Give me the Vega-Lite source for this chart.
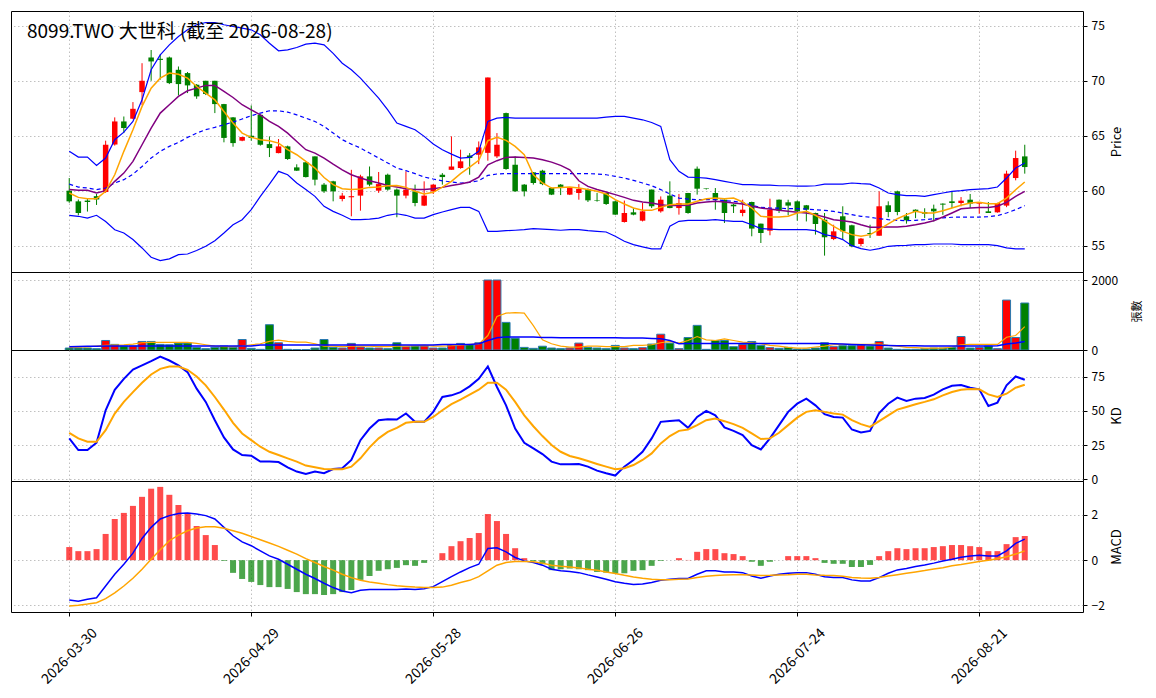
{
"$schema": "https://vega.github.io/schema/vega-lite/v6.json",
"padding": {"left": 10, "top": 10, "right": 0, "bottom": 0},
"autosize": {"type": "pad"},
"bounds": "flush",
"config": {
 "font": "Noto Sans CJK TC",
 "view": {"stroke": "black", "strokeWidth": 1},
 "axis": {"gridColor": "#b0b0b0", "gridDash": [1.5, 2.5], "gridWidth": 0.8, "labelFontSize": 12, "labelColor": "#000", "tickColor": "#000", "tickSize": 4, "domain": false, "titleFontSize": 13, "titleFontWeight": "normal", "titleColor": "#000"}
},
"spacing": 0,
"datasets": {
"k": [
{"i":0,"o":60.0,"h":61.15,"l":58.9,"c":59.03,"v":56,"ma5":59.79,"ma10":60.1,"mid":60.6,"up":63.58,"lo":57.76,"vm5":75,"vm20":94,"k":29.9,"d":34.0,"dif":-1.76,"dea":-2.03,"osc":0.58},
{"i":1,"o":59.03,"h":59.2,"l":57.76,"c":57.97,"v":56,"ma5":59.39,"ma10":60.03,"mid":60.33,"up":63.06,"lo":57.67,"vm5":80,"vm20":100,"k":21.4,"d":29.9,"dif":-1.81,"dea":-1.99,"osc":0.40},
{"i":2,"o":59.1,"h":59.3,"l":58.1,"c":58.97,"v":56,"ma5":59.27,"ma10":60.03,"mid":60.24,"up":63.06,"lo":57.5,"vm5":90,"vm20":105,"k":21.4,"d":27.4,"dif":-1.73,"dea":-1.94,"osc":0.40},
{"i":3,"o":59.5,"h":59.7,"l":58.7,"c":59.2,"v":38,"ma5":59.27,"ma10":59.79,"mid":60.1,"up":62.3,"lo":57.76,"vm5":110,"vm20":108,"k":26.7,"d":27.4,"dif":-1.66,"dea":-1.88,"osc":0.49},
{"i":4,"o":59.88,"h":64.55,"l":59.8,"c":64.18,"v":272,"ma5":59.94,"ma10":60.0,"mid":60.24,"up":62.97,"lo":57.2,"vm5":131,"vm20":113,"k":50.5,"d":35.9,"dif":-1.14,"dea":-1.70,"osc":1.16},
{"i":5,"o":64.2,"h":66.67,"l":64.1,"c":66.3,"v":160,"ma5":61.45,"ma10":60.85,"mid":60.7,"up":64.64,"lo":56.45,"vm5":140,"vm20":113,"k":65.5,"d":48.1,"dif":-0.62,"dea":-1.44,"osc":1.82},
{"i":6,"o":66.3,"h":66.75,"l":65.24,"c":65.7,"v":113,"ma5":63.58,"ma10":61.6,"mid":61.0,"up":65.33,"lo":56.15,"vm5":150,"vm20":113,"k":73.5,"d":56.6,"dif":-0.18,"dea":-1.14,"osc":2.09},
{"i":7,"o":66.55,"h":68.06,"l":66.5,"c":67.45,"v":113,"ma5":65.55,"ma10":62.67,"mid":61.5,"up":66.3,"lo":55.55,"vm5":170,"vm20":113,"k":80.3,"d":63.8,"dif":0.31,"dea":-0.80,"osc":2.40},
{"i":8,"o":68.97,"h":71.6,"l":67.8,"c":70.0,"v":244,"ma5":67.67,"ma10":64.18,"mid":62.2,"up":68.27,"lo":54.79,"vm5":207,"vm20":113,"k":83.3,"d":70.6,"dif":0.96,"dea":-0.40,"osc":2.80},
{"i":9,"o":72.12,"h":72.8,"l":70.0,"c":71.76,"v":244,"ma5":69.33,"ma10":65.7,"mid":62.97,"up":71.0,"lo":53.94,"vm5":216,"vm20":113,"k":86.4,"d":76.7,"dif":1.45,"dea":0.04,"osc":3.16},
{"i":10,"o":72.0,"h":72.4,"l":70.1,"c":71.9,"v":160,"ma5":70.24,"ma10":67.06,"mid":63.58,"up":72.36,"lo":53.64,"vm5":216,"vm20":113,"k":89.8,"d":80.8,"dif":1.82,"dea":0.46,"osc":3.24},
{"i":11,"o":72.12,"h":72.2,"l":69.7,"c":69.79,"v":150,"ma5":70.7,"ma10":67.82,"mid":64.03,"up":73.27,"lo":53.8,"vm5":216,"vm20":113,"k":86.9,"d":82.5,"dif":1.97,"dea":0.86,"osc":2.89},
{"i":12,"o":71.0,"h":71.3,"l":68.67,"c":69.7,"v":197,"ma5":70.6,"ma10":68.58,"mid":64.39,"up":74.03,"lo":54.18,"vm5":216,"vm20":113,"k":83.3,"d":82.5,"dif":2.06,"dea":1.11,"osc":2.44},
{"i":13,"o":70.7,"h":70.8,"l":68.88,"c":69.58,"v":197,"ma5":70.24,"ma10":69.09,"mid":64.85,"up":74.64,"lo":54.24,"vm5":216,"vm20":113,"k":78.4,"d":80.1,"dif":2.09,"dea":1.30,"osc":2.09},
{"i":14,"o":69.64,"h":69.7,"l":68.36,"c":68.58,"v":75,"ma5":69.48,"ma10":69.33,"mid":65.24,"up":75.1,"lo":54.55,"vm5":188,"vm20":113,"k":66.3,"d":75.2,"dif":2.04,"dea":1.42,"osc":1.51},
{"i":15,"o":70.0,"h":70.0,"l":68.7,"c":68.8,"v":38,"ma5":68.88,"ma10":69.58,"mid":65.55,"up":75.3,"lo":54.94,"vm5":150,"vm20":113,"k":56.6,"d":68.7,"dif":1.97,"dea":1.48,"osc":1.11},
{"i":16,"o":70.0,"h":70.0,"l":67.06,"c":67.88,"v":75,"ma5":68.27,"ma10":69.58,"mid":65.76,"up":75.3,"lo":55.45,"vm5":113,"vm20":113,"k":43.2,"d":60.2,"dif":1.82,"dea":1.48,"osc":0.67},
{"i":17,"o":67.88,"h":67.9,"l":64.4,"c":64.8,"v":113,"ma5":67.21,"ma10":69.03,"mid":66.0,"up":75.1,"lo":56.15,"vm5":94,"vm20":113,"k":30.6,"d":51.0,"dif":1.45,"dea":1.41,"osc":-0.03},
{"i":18,"o":66.67,"h":66.7,"l":64.0,"c":64.33,"v":75,"ma5":66.15,"ma10":68.48,"mid":66.24,"up":74.94,"lo":56.9,"vm5":94,"vm20":113,"k":21.8,"d":41.3,"dif":1.08,"dea":1.30,"osc":-0.56},
{"i":19,"o":64.55,"h":64.9,"l":64.5,"c":64.88,"v":300,"ma5":65.24,"ma10":67.82,"mid":66.52,"up":74.79,"lo":57.36,"vm5":113,"vm20":113,"k":17.7,"d":33.5,"dif":0.81,"dea":1.19,"osc":-0.83},
{"i":20,"o":65.0,"h":67.76,"l":64.55,"c":64.8,"v":47,"ma5":64.85,"ma10":67.36,"mid":66.82,"up":74.64,"lo":58.27,"vm5":150,"vm20":113,"k":17.2,"d":28.6,"dif":0.64,"dea":1.05,"osc":-0.96},
{"i":21,"o":66.9,"h":66.9,"l":64.1,"c":64.18,"v":19,"ma5":64.64,"ma10":66.9,"mid":67.06,"up":74.18,"lo":59.48,"vm5":178,"vm20":141,"k":12.9,"d":23.8,"dif":0.41,"dea":0.90,"osc":-1.10},
{"i":22,"o":64.24,"h":64.94,"l":63.06,"c":63.88,"v":723,"ma5":64.55,"ma10":66.3,"mid":67.27,"up":73.42,"lo":60.6,"vm5":244,"vm20":141,"k":12.9,"d":20.1,"dif":0.19,"dea":0.76,"osc":-1.19},
{"i":23,"o":63.42,"h":64.7,"l":63.4,"c":64.03,"v":207,"ma5":64.33,"ma10":65.85,"mid":67.27,"up":72.73,"lo":61.76,"vm5":282,"vm20":141,"k":12.6,"d":17.7,"dif":0.04,"dea":0.61,"osc":-1.19},
{"i":24,"o":64.03,"h":64.1,"l":62.8,"c":62.88,"v":19,"ma5":63.73,"ma10":65.24,"mid":67.15,"up":72.82,"lo":61.45,"vm5":244,"vm20":141,"k":8.7,"d":15.3,"dif":-0.18,"dea":0.44,"osc":-1.27},
{"i":25,"o":62.12,"h":62.4,"l":61.8,"c":61.82,"v":10,"ma5":63.27,"ma10":64.48,"mid":66.9,"up":73.03,"lo":60.7,"vm5":225,"vm20":141,"k":5.6,"d":12.9,"dif":-0.40,"dea":0.27,"osc":-1.41},
{"i":26,"o":62.58,"h":62.6,"l":61.2,"c":61.24,"v":10,"ma5":62.67,"ma10":63.73,"mid":66.6,"up":73.33,"lo":60.1,"vm5":225,"vm20":141,"k":3.9,"d":10.0,"dif":-0.62,"dea":0.07,"osc":-1.50},
{"i":27,"o":63.12,"h":63.12,"l":60.48,"c":61.0,"v":56,"ma5":62.06,"ma10":63.42,"mid":66.3,"up":73.42,"lo":59.48,"vm5":178,"vm20":141,"k":5.6,"d":8.7,"dif":-0.81,"dea":-0.10,"osc":-1.50},
{"i":28,"o":60.55,"h":60.7,"l":59.8,"c":59.94,"v":300,"ma5":61.2,"ma10":62.97,"mid":65.85,"up":73.27,"lo":58.58,"vm5":113,"vm20":141,"k":4.4,"d":7.5,"dif":-1.02,"dea":-0.28,"osc":-1.54},
{"i":29,"o":60.85,"h":60.9,"l":59.03,"c":59.94,"v":75,"ma5":60.55,"ma10":62.42,"mid":65.24,"up":72.5,"lo":58.12,"vm5":113,"vm20":141,"k":7.5,"d":7.3,"dif":-1.21,"dea":-0.44,"osc":-1.50},
{"i":30,"o":59.24,"h":59.8,"l":59.03,"c":59.55,"v":56,"ma5":60.18,"ma10":61.9,"mid":64.64,"up":71.6,"lo":57.76,"vm5":94,"vm20":141,"k":8.0,"d":7.3,"dif":-1.36,"dea":-0.62,"osc":-1.41},
{"i":31,"o":59.4,"h":61.9,"l":57.67,"c":59.5,"v":188,"ma5":60.1,"ma10":61.45,"mid":64.24,"up":71.0,"lo":57.36,"vm5":113,"vm20":141,"k":14.1,"d":9.2,"dif":-1.44,"dea":-0.77,"osc":-1.32},
{"i":32,"o":59.55,"h":61.45,"l":58.18,"c":61.3,"v":85,"ma5":60.15,"ma10":61.15,"mid":63.88,"up":70.24,"lo":57.36,"vm5":113,"vm20":141,"k":28.6,"d":15.3,"dif":-1.33,"dea":-0.89,"osc":-0.87},
{"i":33,"o":61.3,"h":62.2,"l":60.4,"c":60.55,"v":56,"ma5":60.3,"ma10":60.9,"mid":63.42,"up":69.33,"lo":57.42,"vm5":113,"vm20":141,"k":37.1,"d":23.3,"dif":-1.30,"dea":-0.96,"osc":-0.70},
{"i":34,"o":60.0,"h":61.7,"l":59.8,"c":60.6,"v":56,"ma5":60.33,"ma10":60.7,"mid":62.97,"up":68.42,"lo":57.5,"vm5":94,"vm20":141,"k":43.2,"d":29.9,"dif":-1.29,"dea":-1.02,"osc":-0.47},
{"i":35,"o":61.45,"h":61.55,"l":60.0,"c":60.1,"v":38,"ma5":60.45,"ma10":60.48,"mid":62.52,"up":67.36,"lo":57.76,"vm5":94,"vm20":141,"k":43.9,"d":34.7,"dif":-1.29,"dea":-1.08,"osc":-0.40},
{"i":36,"o":60.1,"h":60.2,"l":57.58,"c":59.55,"v":207,"ma5":60.48,"ma10":60.33,"mid":62.06,"up":66.15,"lo":57.9,"vm5":113,"vm20":141,"k":43.7,"d":37.6,"dif":-1.29,"dea":-1.13,"osc":-0.34},
{"i":37,"o":59.55,"h":61.76,"l":59.3,"c":60.1,"v":94,"ma5":60.3,"ma10":60.18,"mid":61.82,"up":65.85,"lo":57.76,"vm5":113,"vm20":141,"k":48.1,"d":41.3,"dif":-1.27,"dea":-1.16,"osc":-0.22},
{"i":38,"o":59.94,"h":60.55,"l":58.58,"c":58.88,"v":113,"ma5":59.94,"ma10":60.1,"mid":61.55,"up":65.55,"lo":57.5,"vm5":122,"vm20":141,"k":42.0,"d":42.0,"dif":-1.29,"dea":-1.19,"osc":-0.25},
{"i":39,"o":58.64,"h":60.85,"l":58.6,"c":59.55,"v":113,"ma5":59.7,"ma10":60.1,"mid":61.24,"up":64.94,"lo":57.5,"vm5":131,"vm20":141,"k":42.0,"d":42.0,"dif":-1.26,"dea":-1.21,"osc":-0.12},
{"i":40,"o":59.94,"h":60.6,"l":59.7,"c":60.55,"v":56,"ma5":59.85,"ma10":60.18,"mid":61.06,"up":64.24,"lo":57.82,"vm5":113,"vm20":141,"k":49.3,"d":45.6,"dif":-1.17,"dea":-1.21,"osc":0.0},
{"i":41,"o":61.45,"h":61.6,"l":60.55,"c":61.24,"v":56,"ma5":60.33,"ma10":60.3,"mid":60.9,"up":63.73,"lo":58.06,"vm5":113,"vm20":160,"k":60.2,"d":50.5,"dif":-0.95,"dea":-1.19,"osc":0.31},
{"i":42,"o":61.9,"h":64.94,"l":61.9,"c":62.2,"v":150,"ma5":60.85,"ma10":60.48,"mid":60.79,"up":63.33,"lo":58.27,"vm5":122,"vm20":160,"k":61.4,"d":54.9,"dif":-0.73,"dea":-1.11,"osc":0.62},
{"i":43,"o":62.06,"h":63.73,"l":62.0,"c":62.67,"v":188,"ma5":61.55,"ma10":60.6,"mid":60.7,"up":62.97,"lo":58.48,"vm5":141,"vm20":160,"k":63.8,"d":58.3,"dif":-0.52,"dea":-0.99,"osc":0.84},
{"i":44,"o":63.2,"h":63.42,"l":61.45,"c":62.97,"v":150,"ma5":62.15,"ma10":60.79,"mid":60.76,"up":63.03,"lo":58.48,"vm5":160,"vm20":160,"k":68.0,"d":61.9,"dif":-0.33,"dea":-0.89,"osc":0.98},
{"i":45,"o":63.27,"h":64.48,"l":62.42,"c":63.94,"v":207,"ma5":62.76,"ma10":61.24,"mid":60.9,"up":63.58,"lo":58.12,"vm5":169,"vm20":178,"k":73.5,"d":65.5,"dif":-0.18,"dea":-0.73,"osc":1.20},
{"i":46,"o":63.44,"h":70.3,"l":62.73,"c":70.3,"v":2000,"ma5":64.55,"ma10":62.36,"mid":61.39,"up":66.3,"lo":56.3,"vm5":413,"vm20":272,"k":82.5,"d":70.6,"dif":0.52,"dea":-0.47,"osc":2.04},
{"i":47,"o":63.12,"h":65.24,"l":62.97,"c":64.18,"v":2000,"ma5":64.85,"ma10":62.73,"mid":61.52,"up":66.6,"lo":56.3,"vm5":958,"vm20":347,"k":67.5,"d":70.6,"dif":0.55,"dea":-0.22,"osc":1.73},
{"i":48,"o":67.06,"h":67.1,"l":61.9,"c":61.97,"v":789,"ma5":64.58,"ma10":63.03,"mid":61.55,"up":66.67,"lo":56.36,"vm5":1052,"vm20":375,"k":54.1,"d":65.5,"dif":0.37,"dea":-0.10,"osc":1.16},
{"i":49,"o":62.36,"h":63.12,"l":59.9,"c":59.94,"v":338,"ma5":64.03,"ma10":63.06,"mid":61.55,"up":66.6,"lo":56.4,"vm5":1070,"vm20":375,"k":37.1,"d":56.6,"dif":0.12,"dea":-0.06,"osc":0.53},
{"i":50,"o":60.55,"h":60.6,"l":59.48,"c":59.94,"v":75,"ma5":63.27,"ma10":63.03,"mid":61.55,"up":66.6,"lo":56.45,"vm5":1052,"vm20":375,"k":26.7,"d":46.8,"dif":-0.03,"dea":-0.06,"osc":0.09},
{"i":51,"o":61.67,"h":61.7,"l":60.55,"c":60.7,"v":47,"ma5":61.45,"ma10":62.97,"mid":61.55,"up":66.6,"lo":56.55,"vm5":695,"vm20":375,"k":22.6,"d":38.8,"dif":-0.10,"dea":-0.07,"osc":-0.05},
{"i":52,"o":61.82,"h":61.9,"l":60.5,"c":60.6,"v":108,"ma5":60.7,"ma10":62.82,"mid":61.55,"up":66.6,"lo":56.5,"vm5":290,"vm20":360,"k":18.4,"d":31.6,"dif":-0.22,"dea":-0.13,"osc":-0.18},
{"i":53,"o":60.24,"h":60.3,"l":59.6,"c":59.64,"v":56,"ma5":60.24,"ma10":62.6,"mid":61.55,"up":66.6,"lo":56.45,"vm5":178,"vm20":355,"k":12.9,"d":25.0,"dif":-0.40,"dea":-0.22,"osc":-0.44},
{"i":54,"o":60.55,"h":60.6,"l":59.6,"c":60.24,"v":38,"ma5":60.3,"ma10":62.3,"mid":61.55,"up":66.6,"lo":56.4,"vm5":113,"vm20":350,"k":10.9,"d":20.1,"dif":-0.47,"dea":-0.27,"osc":-0.40},
{"i":55,"o":59.64,"h":60.3,"l":59.6,"c":60.24,"v":56,"ma5":60.33,"ma10":61.9,"mid":61.55,"up":66.6,"lo":56.45,"vm5":85,"vm20":350,"k":10.9,"d":17.0,"dif":-0.50,"dea":-0.30,"osc":-0.37},
{"i":56,"o":59.79,"h":60.6,"l":59.18,"c":60.15,"v":197,"ma5":60.24,"ma10":60.9,"mid":61.55,"up":66.6,"lo":56.45,"vm5":85,"vm20":350,"k":11.2,"d":15.3,"dif":-0.55,"dea":-0.34,"osc":-0.40},
{"i":57,"o":60.15,"h":60.2,"l":58.97,"c":59.12,"v":75,"ma5":60.1,"ma10":60.39,"mid":61.55,"up":66.6,"lo":56.36,"vm5":113,"vm20":350,"k":9.2,"d":13.3,"dif":-0.65,"dea":-0.40,"osc":-0.44},
{"i":58,"o":59.15,"h":59.8,"l":59.0,"c":59.1,"v":56,"ma5":59.94,"ma10":60.1,"mid":61.52,"up":66.6,"lo":56.3,"vm5":113,"vm20":350,"k":6.3,"d":11.2,"dif":-0.74,"dea":-0.44,"osc":-0.52},
{"i":59,"o":59.79,"h":59.8,"l":58.7,"c":58.79,"v":38,"ma5":59.7,"ma10":59.88,"mid":61.45,"up":66.7,"lo":56.24,"vm5":94,"vm20":350,"k":4.4,"d":9.2,"dif":-0.84,"dea":-0.52,"osc":-0.55},
{"i":60,"o":59.03,"h":59.1,"l":57.8,"c":57.82,"v":131,"ma5":59.18,"ma10":59.64,"mid":61.3,"up":66.76,"lo":55.85,"vm5":94,"vm20":350,"k":2.7,"d":7.3,"dif":-0.95,"dea":-0.59,"osc":-0.58},
{"i":61,"o":57.15,"h":59.1,"l":57.1,"c":57.97,"v":56,"ma5":58.79,"ma10":59.39,"mid":61.15,"up":66.76,"lo":55.4,"vm5":94,"vm20":345,"k":9.2,"d":8.0,"dif":-1.02,"dea":-0.67,"osc":-0.58},
{"i":62,"o":58.03,"h":58.4,"l":57.76,"c":57.82,"v":38,"ma5":58.42,"ma10":59.12,"mid":60.94,"up":66.6,"lo":55.09,"vm5":131,"vm20":340,"k":14.1,"d":10.4,"dif":-1.07,"dea":-0.74,"osc":-0.47},
{"i":63,"o":57.27,"h":58.88,"l":57.2,"c":58.12,"v":66,"ma5":58.21,"ma10":58.97,"mid":60.7,"up":66.45,"lo":54.88,"vm5":131,"vm20":340,"k":20.1,"d":14.1,"dif":-1.05,"dea":-0.80,"osc":-0.44},
{"i":64,"o":60.1,"h":60.1,"l":58.42,"c":58.58,"v":169,"ma5":58.21,"ma10":58.88,"mid":60.45,"up":66.2,"lo":54.7,"vm5":150,"vm20":330,"k":29.9,"d":18.9,"dif":-0.99,"dea":-0.84,"osc":-0.25},
{"i":65,"o":58.12,"h":59.48,"l":58.0,"c":59.18,"v":451,"ma5":58.48,"ma10":58.73,"mid":60.1,"up":65.85,"lo":54.7,"vm5":207,"vm20":320,"k":42.0,"d":26.2,"dif":-0.89,"dea":-0.86,"osc":-0.03},
{"i":66,"o":59.55,"h":60.85,"l":58.4,"c":58.42,"v":197,"ma5":58.73,"ma10":58.64,"mid":59.7,"up":62.82,"lo":56.76,"vm5":244,"vm20":272,"k":42.7,"d":31.6,"dif":-0.84,"dea":-0.86,"osc":0.0},
{"i":67,"o":58.42,"h":59.7,"l":57.82,"c":58.88,"v":38,"ma5":58.79,"ma10":58.64,"mid":59.33,"up":61.76,"lo":57.21,"vm5":197,"vm20":178,"k":43.2,"d":35.4,"dif":-0.81,"dea":-0.84,"osc":0.09},
{"i":68,"o":59.79,"h":59.8,"l":57.9,"c":57.97,"v":357,"ma5":58.79,"ma10":58.67,"mid":59.24,"up":61.24,"lo":57.3,"vm5":272,"vm20":188,"k":37.6,"d":36.4,"dif":-0.81,"dea":-0.83,"osc":0.01},
{"i":69,"o":62.0,"h":62.2,"l":59.64,"c":60.18,"v":704,"ma5":59.03,"ma10":58.88,"mid":59.18,"up":61.2,"lo":57.3,"vm5":385,"vm20":188,"k":45.6,"d":39.6,"dif":-0.62,"dea":-0.77,"osc":0.37},
{"i":70,"o":60.2,"h":60.2,"l":60.1,"c":60.15,"v":19,"ma5":59.27,"ma10":58.97,"mid":59.18,"up":61.15,"lo":57.3,"vm5":291,"vm20":188,"k":50.0,"d":43.2,"dif":-0.47,"dea":-0.71,"osc":0.49},
{"i":71,"o":59.79,"h":60.24,"l":58.27,"c":59.18,"v":272,"ma5":59.33,"ma10":59.03,"mid":59.18,"up":61.0,"lo":57.36,"vm5":272,"vm20":188,"k":46.8,"d":44.4,"dif":-0.47,"dea":-0.68,"osc":0.49},
{"i":72,"o":59.18,"h":59.2,"l":57.06,"c":57.97,"v":272,"ma5":59.27,"ma10":58.97,"mid":59.09,"up":60.85,"lo":57.27,"vm5":319,"vm20":188,"k":37.9,"d":42.5,"dif":-0.52,"dea":-0.65,"osc":0.31},
{"i":73,"o":58.73,"h":58.8,"l":57.97,"c":58.58,"v":94,"ma5":59.33,"ma10":58.88,"mid":59.03,"up":60.7,"lo":57.21,"vm5":272,"vm20":188,"k":35.4,"d":40.3,"dif":-0.52,"dea":-0.64,"osc":0.27},
{"i":74,"o":57.97,"h":59.18,"l":57.67,"c":58.27,"v":160,"ma5":58.97,"ma10":58.79,"mid":58.94,"up":60.55,"lo":57.21,"vm5":225,"vm20":188,"k":32.3,"d":37.6,"dif":-0.55,"dea":-0.64,"osc":0.18},
{"i":75,"o":58.97,"h":59.0,"l":55.85,"c":56.55,"v":244,"ma5":58.42,"ma10":58.58,"mid":58.67,"up":60.55,"lo":56.9,"vm5":207,"vm20":188,"k":25.0,"d":33.5,"dif":-0.70,"dea":-0.65,"osc":-0.07},
{"i":76,"o":57.0,"h":57.0,"l":55.24,"c":56.15,"v":131,"ma5":57.67,"ma10":58.42,"mid":58.48,"up":60.5,"lo":56.55,"vm5":178,"vm20":188,"k":21.8,"d":29.4,"dif":-0.80,"dea":-0.68,"osc":-0.25},
{"i":77,"o":56.36,"h":59.27,"l":55.94,"c":58.27,"v":66,"ma5":57.6,"ma10":58.33,"mid":58.42,"up":60.5,"lo":56.5,"vm5":131,"vm20":188,"k":29.9,"d":29.9,"dif":-0.70,"dea":-0.67,"osc":-0.07},
{"i":78,"o":59.18,"h":59.2,"l":57.97,"c":58.18,"v":47,"ma5":57.6,"ma10":58.21,"mid":58.42,"up":60.45,"lo":56.45,"vm5":113,"vm20":188,"k":39.6,"d":34.0,"dif":-0.62,"dea":-0.65,"osc":0.0},
{"i":79,"o":58.94,"h":59.18,"l":57.76,"c":58.64,"v":75,"ma5":57.67,"ma10":58.12,"mid":58.36,"up":60.45,"lo":56.45,"vm5":75,"vm20":188,"k":49.3,"d":39.6,"dif":-0.58,"dea":-0.64,"osc":0.18},
{"i":80,"o":59.03,"h":59.1,"l":57.27,"c":58.12,"v":28,"ma5":57.97,"ma10":58.03,"mid":58.36,"up":60.42,"lo":56.45,"vm5":56,"vm20":188,"k":55.3,"d":45.1,"dif":-0.55,"dea":-0.62,"osc":0.18},
{"i":81,"o":58.67,"h":58.7,"l":57.2,"c":58.27,"v":28,"ma5":58.12,"ma10":57.97,"mid":58.33,"up":60.42,"lo":56.45,"vm5":56,"vm20":188,"k":59.0,"d":49.3,"dif":-0.55,"dea":-0.62,"osc":0.18},
{"i":82,"o":57.97,"h":58.0,"l":56.0,"c":56.97,"v":56,"ma5":57.76,"ma10":57.82,"mid":58.27,"up":60.45,"lo":56.36,"vm5":85,"vm20":188,"k":54.1,"d":50.5,"dif":-0.62,"dea":-0.65,"osc":0.09},
{"i":83,"o":57.36,"h":57.97,"l":54.09,"c":55.76,"v":207,"ma5":57.27,"ma10":57.6,"mid":58.21,"up":60.6,"lo":56.0,"vm5":113,"vm20":188,"k":47.6,"d":49.3,"dif":-0.73,"dea":-0.67,"osc":-0.12},
{"i":84,"o":55.6,"h":56.9,"l":55.5,"c":56.3,"v":94,"ma5":56.76,"ma10":57.36,"mid":58.12,"up":60.6,"lo":55.85,"vm5":150,"vm20":180,"k":45.6,"d":48.1,"dif":-0.77,"dea":-0.68,"osc":-0.16},
{"i":85,"o":57.67,"h":58.58,"l":55.55,"c":56.3,"v":122,"ma5":56.3,"ma10":57.27,"mid":57.97,"up":60.6,"lo":55.55,"vm5":160,"vm20":170,"k":45.1,"d":47.3,"dif":-0.77,"dea":-0.71,"osc":-0.16},
{"i":86,"o":56.85,"h":56.9,"l":54.85,"c":54.94,"v":122,"ma5":56.0,"ma10":57.15,"mid":57.82,"up":60.7,"lo":55.0,"vm5":160,"vm20":160,"k":36.4,"d":43.2,"dif":-0.87,"dea":-0.76,"osc":-0.30},
{"i":87,"o":55.15,"h":55.7,"l":54.94,"c":55.64,"v":141,"ma5":55.85,"ma10":56.9,"mid":57.67,"up":60.64,"lo":54.73,"vm5":160,"vm20":150,"k":34.2,"d":40.3,"dif":-0.92,"dea":-0.79,"osc":-0.30},
{"i":88,"o":56.15,"h":56.9,"l":55.7,"c":56.06,"v":113,"ma5":56.0,"ma10":56.67,"mid":57.58,"up":60.6,"lo":54.58,"vm5":160,"vm20":140,"k":35.4,"d":38.3,"dif":-0.92,"dea":-0.80,"osc":-0.21},
{"i":89,"o":55.9,"h":59.94,"l":55.9,"c":58.58,"v":244,"ma5":56.45,"ma10":56.67,"mid":57.45,"up":60.24,"lo":54.73,"vm5":178,"vm20":135,"k":48.5,"d":42.5,"dif":-0.77,"dea":-0.76,"osc":0.18},
{"i":90,"o":58.67,"h":59.03,"l":57.58,"c":58.06,"v":56,"ma5":56.97,"ma10":56.7,"mid":57.36,"up":59.79,"lo":54.94,"vm5":131,"vm20":131,"k":55.3,"d":46.8,"dif":-0.58,"dea":-0.70,"osc":0.40},
{"i":91,"o":59.94,"h":60.0,"l":57.76,"c":58.06,"v":19,"ma5":57.45,"ma10":56.7,"mid":57.3,"up":59.64,"lo":55.0,"vm5":113,"vm20":125,"k":59.7,"d":51.0,"dif":-0.43,"dea":-0.64,"osc":0.53},
{"i":92,"o":57.67,"h":57.97,"l":57.0,"c":57.3,"v":19,"ma5":57.82,"ma10":56.76,"mid":57.27,"up":59.55,"lo":55.03,"vm5":75,"vm20":120,"k":57.3,"d":52.9,"dif":-0.37,"dea":-0.58,"osc":0.49},
{"i":93,"o":58.27,"h":58.3,"l":57.5,"c":58.06,"v":19,"ma5":58.12,"ma10":56.9,"mid":57.3,"up":59.55,"lo":55.09,"vm5":66,"vm20":118,"k":59.0,"d":54.9,"dif":-0.28,"dea":-0.52,"osc":0.53},
{"i":94,"o":58.06,"h":58.4,"l":57.5,"c":57.9,"v":38,"ma5":57.97,"ma10":57.06,"mid":57.36,"up":59.48,"lo":55.09,"vm5":56,"vm20":115,"k":59.5,"d":56.6,"dif":-0.21,"dea":-0.46,"osc":0.53},
{"i":95,"o":58.36,"h":58.73,"l":57.2,"c":58.12,"v":56,"ma5":57.97,"ma10":57.27,"mid":57.45,"up":59.64,"lo":55.15,"vm5":56,"vm20":113,"k":61.9,"d":58.5,"dif":-0.13,"dea":-0.39,"osc":0.58},
{"i":96,"o":58.82,"h":58.85,"l":57.8,"c":58.73,"v":56,"ma5":58.18,"ma10":57.6,"mid":57.52,"up":59.79,"lo":55.15,"vm5":56,"vm20":113,"k":65.8,"d":61.4,"dif":-0.04,"dea":-0.33,"osc":0.62},
{"i":97,"o":59.03,"h":59.94,"l":58.42,"c":58.88,"v":75,"ma5":58.42,"ma10":57.97,"mid":57.58,"up":59.94,"lo":55.15,"vm5":85,"vm20":113,"k":68.4,"d":63.8,"dif":0.04,"dea":-0.25,"osc":0.67},
{"i":98,"o":58.88,"h":59.42,"l":58.58,"c":59.09,"v":385,"ma5":58.67,"ma10":58.36,"mid":57.6,"up":60.0,"lo":55.09,"vm5":150,"vm20":113,"k":68.9,"d":65.5,"dif":0.13,"dea":-0.19,"osc":0.67},
{"i":99,"o":59.18,"h":59.7,"l":58.42,"c":58.82,"v":56,"ma5":58.88,"ma10":58.42,"mid":57.6,"up":60.09,"lo":55.09,"vm5":160,"vm20":113,"k":67.0,"d":66.0,"dif":0.19,"dea":-0.12,"osc":0.62},
{"i":100,"o":58.82,"h":58.9,"l":57.9,"c":58.88,"v":75,"ma5":58.94,"ma10":58.48,"mid":57.6,"up":60.15,"lo":55.09,"vm5":160,"vm20":113,"k":65.8,"d":65.8,"dif":0.22,"dea":-0.06,"osc":0.58},
{"i":101,"o":58.12,"h":58.97,"l":57.97,"c":57.97,"v":113,"ma5":58.82,"ma10":58.48,"mid":57.63,"up":60.18,"lo":55.09,"vm5":160,"vm20":113,"k":53.6,"d":62.1,"dif":0.19,"dea":0.0,"osc":0.40},
{"i":102,"o":58.03,"h":58.9,"l":58.0,"c":58.88,"v":38,"ma5":58.82,"ma10":58.58,"mid":57.73,"up":60.33,"lo":55.0,"vm5":160,"vm20":122,"k":56.1,"d":60.2,"dif":0.19,"dea":0.06,"osc":0.40},
{"i":103,"o":58.64,"h":61.82,"l":58.5,"c":61.55,"v":1427,"ma5":59.33,"ma10":58.94,"mid":57.97,"up":61.15,"lo":54.79,"vm5":366,"vm20":169,"k":68.7,"d":62.6,"dif":0.41,"dea":0.15,"osc":0.71},
{"i":104,"o":61.15,"h":63.64,"l":60.94,"c":62.97,"v":357,"ma5":60.09,"ma10":59.48,"mid":58.27,"up":62.06,"lo":54.7,"vm5":413,"vm20":197,"k":75.2,"d":67.0,"dif":0.74,"dea":0.27,"osc":1.02},
{"i":105,"o":63.12,"h":64.18,"l":61.55,"c":62.15,"v":1343,"ma5":60.79,"ma10":59.94,"mid":58.64,"up":62.52,"lo":54.7,"vm5":667,"vm20":244,"k":72.8,"d":69.2,"dif":0.93,"dea":0.41,"osc":1.07}
],
"lv": [{"lv": 80}, {"lv": 20}]
},
"vconcat": [
{
 "width": 1072, "height": 261,
 "title": {"text": "8099.TWO 大世科 (截至 2026-08-28)", "anchor": "start", "frame": "group", "fontSize": 19, "fontWeight": "normal", "color": "#000", "offset": -31, "dx": 16},
 "data": {"name": "k"},
 "encoding": {"x": {"field": "i", "type": "quantitative", "scale": {"domain": [-6.4, 111.4], "nice": false, "zero": false, "padding": 0}, "axis": {"values": [0, 20, 40, 60, 80, 100], "grid": true, "labels": false, "ticks": false, "title": null}}},
 "layer": [
  {"mark": {"type": "rule", "strokeWidth": 1}, "encoding": {"y": {"field": "l", "type": "quantitative", "title": "Price", "scale": {"domain": [52.6, 76.35], "nice": false, "zero": false}, "axis": {"orient": "right", "values": [55, 60, 65, 70, 75], "grid": true, "labelPadding": 4, "titleAngle": 270, "titleBaseline": "top", "titlePadding": 6}}, "y2": {"field": "h"}, "color": {"condition": {"test": "datum.c >= datum.o", "value": "red"}, "value": "green"}}},
  {"mark": {"type": "bar", "width": 5.5}, "encoding": {"y": {"field": "o", "type": "quantitative", "title": "Price"}, "y2": {"field": "c"}, "color": {"condition": {"test": "datum.c >= datum.o", "value": "red"}, "value": "green"}}},
  {"mark": {"type": "line", "color": "blue", "strokeWidth": 1.2}, "encoding": {"y": {"field": "up", "type": "quantitative", "title": "Price"}}},
  {"mark": {"type": "line", "color": "blue", "strokeWidth": 1.2}, "encoding": {"y": {"field": "lo", "type": "quantitative", "title": "Price"}}},
  {"mark": {"type": "line", "color": "blue", "strokeWidth": 1.2, "strokeDash": [4, 3]}, "encoding": {"y": {"field": "mid", "type": "quantitative", "title": "Price"}}},
  {"mark": {"type": "line", "color": "purple", "strokeWidth": 1.5}, "encoding": {"y": {"field": "ma10", "type": "quantitative", "title": "Price"}}},
  {"mark": {"type": "line", "color": "orange", "strokeWidth": 1.5}, "encoding": {"y": {"field": "ma5", "type": "quantitative", "title": "Price"}}}
 ]
},
{
 "width": 1072, "height": 78,
 "data": {"name": "k"},
 "encoding": {"x": {"field": "i", "type": "quantitative", "scale": {"domain": [-6.4, 111.4], "nice": false, "zero": false, "padding": 0}, "axis": {"values": [0, 20, 40, 60, 80, 100], "grid": true, "labels": false, "ticks": false, "title": null}}},
 "layer": [
  {"mark": {"type": "bar", "width": 8, "stroke": "#2a7ab0", "strokeWidth": 1}, "encoding": {"y": {"field": "v", "type": "quantitative", "title": "張數", "scale": {"domain": [0, 2229], "nice": false}, "axis": {"orient": "right", "values": [0, 2000], "format": "d", "grid": true, "labelPadding": 4, "titleAngle": 270, "titleBaseline": "top", "titlePadding": 14, "titleFontSize": 11}}, "color": {"condition": {"test": "datum.c >= datum.o", "value": "red"}, "value": "green"}}},
  {"mark": {"type": "line", "color": "orange", "strokeWidth": 1.2}, "encoding": {"y": {"field": "vm5", "type": "quantitative", "title": "張數"}}},
  {"mark": {"type": "line", "color": "blue", "strokeWidth": 1.5}, "encoding": {"y": {"field": "vm20", "type": "quantitative", "title": "張數"}}}
 ]
},
{
 "width": 1072, "height": 131,
 "encoding": {"x": {"field": "i", "type": "quantitative", "scale": {"domain": [-6.4, 111.4], "nice": false, "zero": false, "padding": 0}, "axis": {"values": [0, 20, 40, 60, 80, 100], "grid": true, "labels": false, "ticks": false, "title": null}}},
 "layer": [
  {"data": {"name": "lv"}, "mark": {"type": "rule", "color": "#8a8a8a", "strokeWidth": 1, "strokeDash": [1.5, 2.5]}, "encoding": {"x": {"datum": 0, "type": "quantitative"}, "x2": {"datum": 105}, "y": {"field": "lv", "type": "quantitative", "title": "KD", "scale": {"domain": [-1.3, 94.6], "nice": false, "zero": false}, "axis": {"orient": "right", "values": [0, 25, 50, 75], "grid": true, "labelPadding": 4, "titleAngle": 270, "titleBaseline": "top", "titlePadding": 6}}}},
  {"data": {"name": "k"}, "mark": {"type": "line", "color": "blue", "strokeWidth": 2}, "encoding": {"y": {"field": "k", "type": "quantitative", "title": "KD"}}},
  {"data": {"name": "k"}, "mark": {"type": "line", "color": "orange", "strokeWidth": 2}, "encoding": {"y": {"field": "d", "type": "quantitative", "title": "KD"}}}
 ]
},
{
 "width": 1072, "height": 131,
 "data": {"name": "k"},
 "encoding": {"x": {"field": "i", "type": "quantitative", "scale": {"domain": [-6.4, 111.4], "nice": false, "zero": false, "padding": 0}, "axis": {"values": [0, 20, 40, 60, 80, 100], "grid": true, "title": null, "labelAngle": -45, "labelAlign": "center", "labelBaseline": "middle", "labelPadding": 40, "labelFontSize": 14, "labelExpr": "datum.value == 0 ? '2026-03-30' : datum.value == 20 ? '2026-04-29' : datum.value == 40 ? '2026-05-28' : datum.value == 60 ? '2026-06-26' : datum.value == 80 ? '2026-07-24' : '2026-08-21'"}}},
 "layer": [
  {"mark": {"type": "bar", "width": 6, "opacity": 0.7}, "encoding": {"y": {"field": "osc", "type": "quantitative", "title": "MACD", "scale": {"domain": [-2.29, 3.5], "nice": false, "zero": false}, "axis": {"orient": "right", "values": [-2, 0, 2], "grid": true, "labelPadding": 4, "titleAngle": 270, "titleBaseline": "top", "titlePadding": 6}}, "y2": {"datum": 0}, "color": {"condition": {"test": "datum.osc >= 0", "value": "red"}, "value": "green"}}},
  {"mark": {"type": "line", "color": "blue", "strokeWidth": 1.5}, "encoding": {"y": {"field": "dif", "type": "quantitative", "title": "MACD"}}},
  {"mark": {"type": "line", "color": "orange", "strokeWidth": 1.5}, "encoding": {"y": {"field": "dea", "type": "quantitative", "title": "MACD"}}}
 ]
}
]
}
